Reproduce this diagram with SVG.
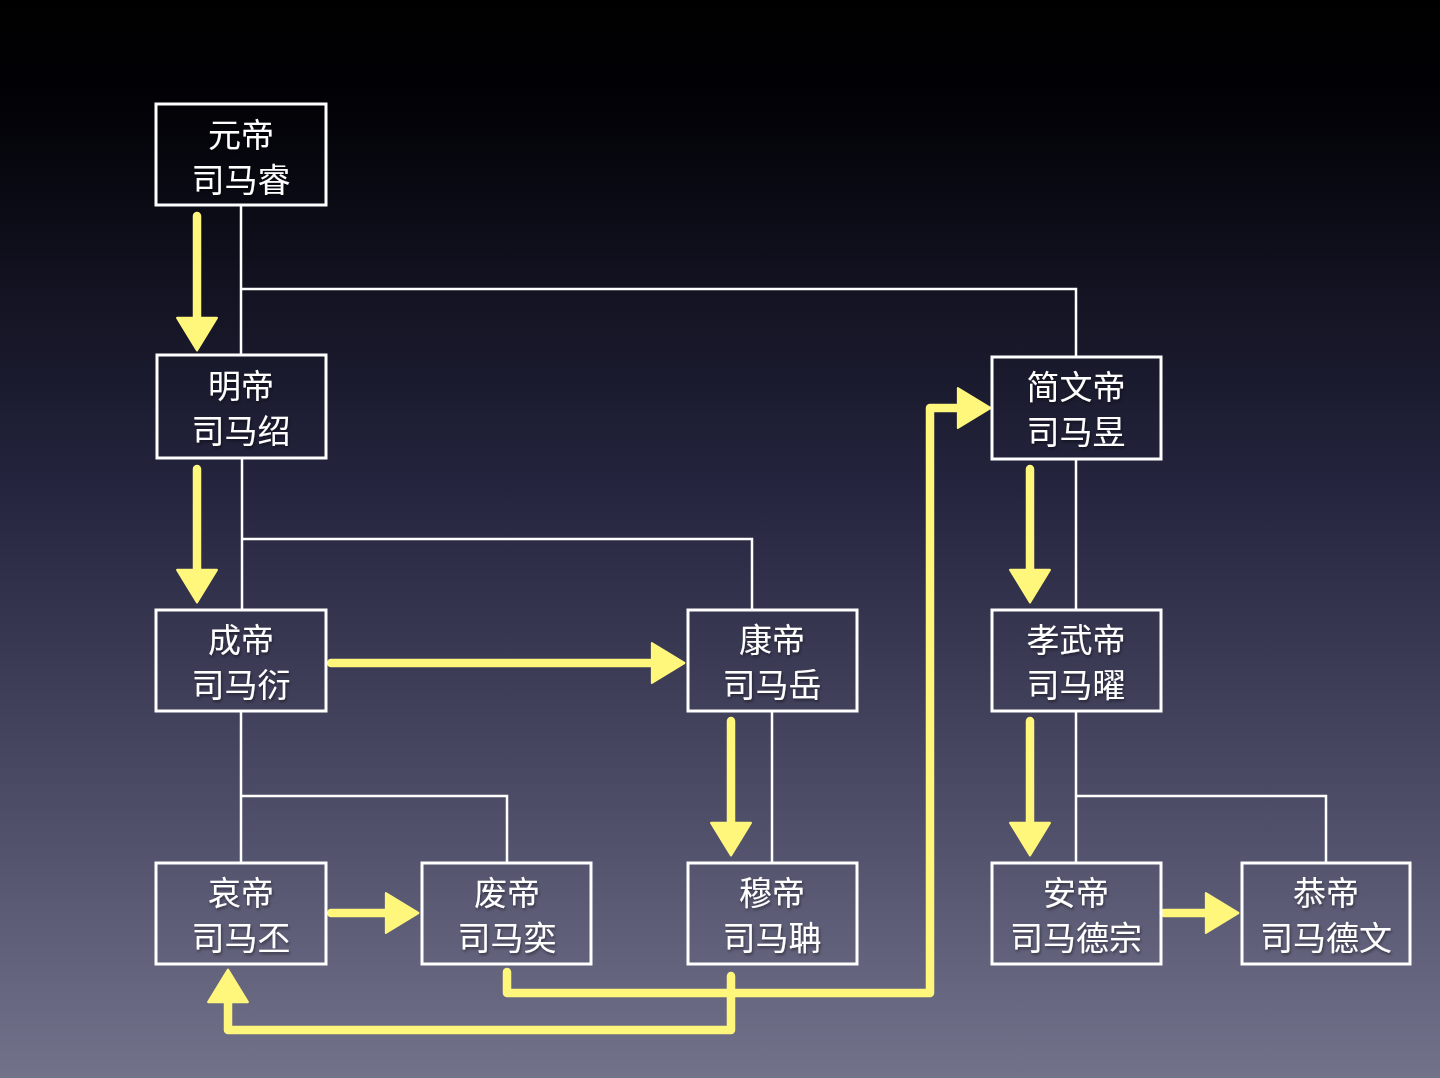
<svg xmlns="http://www.w3.org/2000/svg" width="1440" height="1078" viewBox="0 0 1440 1078">
  <defs>
    <linearGradient id="bg" x1="0" y1="0" x2="0" y2="1">
      <stop offset="0" stop-color="#000000"/>
      <stop offset="0.1" stop-color="#020207"/>
      <stop offset="0.45" stop-color="#24243e"/>
      <stop offset="0.75" stop-color="#4e4d68"/>
      <stop offset="1" stop-color="#73728b"/>
    </linearGradient>
    <filter id="shadow" x="-20%" y="-20%" width="140%" height="160%">
      <feDropShadow dx="1" dy="2" stdDeviation="1.5" flood-color="#000" flood-opacity="0.45"/>
    </filter>
    <marker id="head" markerUnits="userSpaceOnUse" markerWidth="40" markerHeight="44" viewBox="-2 -21 36 42" refX="2" refY="0" orient="auto">
      <path d="M0,-19 L31,0 L0,19 Z" fill="#fff67c" stroke="#fff67c" stroke-width="2" stroke-linejoin="round"/>
    </marker>
    <style>
      .box { fill: none; stroke: #ffffff; stroke-width: 3; }
      .lbl { font-family: "Noto Sans CJK SC", "Noto Sans", sans-serif; font-size: 33px; fill: #ffffff; text-anchor: middle; filter: url(#shadow); }
      .tree { fill: none; stroke: #ffffff; stroke-width: 2.5; }
      .arrow { fill: none; stroke: #fff67c; stroke-width: 8.5; stroke-linecap: round; stroke-linejoin: round; marker-end: url(#head); }
    </style>
  </defs>
  <rect x="0" y="0" width="1440" height="1078" fill="url(#bg)"/>

  <g id="connectors">
    <path class="tree" d="M241,205 V355 M241,289 H1076 V357"/>
    <path class="tree" d="M242,458 V610 M242,539 H752 V610"/>
    <path class="tree" d="M241,711 V863 M241,796 H507 V863"/>
    <path class="tree" d="M772,711 V863"/>
    <path class="tree" d="M1076,459 V610"/>
    <path class="tree" d="M1076,711 V863 M1076,796 H1326 V863"/>

    <path class="arrow" d="M197,216 V320"/>
    <path class="arrow" d="M197,469 V572"/>
    <path class="arrow" d="M331,663 H654"/>
    <path class="arrow" d="M731,721 V825"/>
    <path class="arrow" d="M1030,469 V572"/>
    <path class="arrow" d="M1030,721 V825"/>
    <path class="arrow" d="M331,913 H388"/>
    <path class="arrow" d="M1164,913 H1208"/>
    <path class="arrow" d="M507,972 V993 H930 V408 H960"/>
    <path class="arrow" d="M731,976 V1030 H228 V1000"/>
  </g>

  <g id="yuandi">
    <rect class="box" x="156" y="104" width="170" height="101"/>
    <text class="lbl" x="241" y="147">元帝</text>
    <text class="lbl" x="241" y="192">司马睿</text>
  </g>
  <g id="mingdi">
    <rect class="box" x="157" y="355" width="169" height="103"/>
    <text class="lbl" x="241" y="398">明帝</text>
    <text class="lbl" x="241" y="443">司马绍</text>
  </g>
  <g id="chengdi">
    <rect class="box" x="156" y="610" width="170" height="101"/>
    <text class="lbl" x="241" y="652">成帝</text>
    <text class="lbl" x="241" y="697">司马衍</text>
  </g>
  <g id="kangdi">
    <rect class="box" x="688" y="610" width="169" height="101"/>
    <text class="lbl" x="772" y="652">康帝</text>
    <text class="lbl" x="772" y="697">司马岳</text>
  </g>
  <g id="jianwendi">
    <rect class="box" x="992" y="357" width="169" height="102"/>
    <text class="lbl" x="1076" y="399">简文帝</text>
    <text class="lbl" x="1076" y="444">司马昱</text>
  </g>
  <g id="xiaowudi">
    <rect class="box" x="992" y="610" width="169" height="101"/>
    <text class="lbl" x="1076" y="652">孝武帝</text>
    <text class="lbl" x="1076" y="697">司马曜</text>
  </g>
  <g id="aidi">
    <rect class="box" x="156" y="863" width="170" height="101"/>
    <text class="lbl" x="241" y="905">哀帝</text>
    <text class="lbl" x="241" y="950">司马丕</text>
  </g>
  <g id="feidi">
    <rect class="box" x="422" y="863" width="169" height="101"/>
    <text class="lbl" x="507" y="905">废帝</text>
    <text class="lbl" x="507" y="950">司马奕</text>
  </g>
  <g id="mudi">
    <rect class="box" x="688" y="863" width="169" height="101"/>
    <text class="lbl" x="772" y="905">穆帝</text>
    <text class="lbl" x="772" y="950">司马聃</text>
  </g>
  <g id="andi">
    <rect class="box" x="992" y="863" width="169" height="101"/>
    <text class="lbl" x="1076" y="905">安帝</text>
    <text class="lbl" x="1076" y="950">司马德宗</text>
  </g>
  <g id="gongdi">
    <rect class="box" x="1242" y="863" width="168" height="101"/>
    <text class="lbl" x="1326" y="905">恭帝</text>
    <text class="lbl" x="1326" y="950">司马德文</text>
  </g>
</svg>
